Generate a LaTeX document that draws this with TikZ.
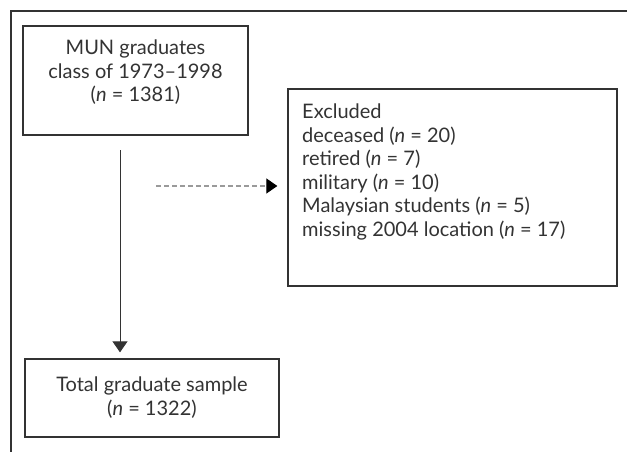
\documentclass[tikz,border=0pt]{standalone}
\usepackage{fontspec}
\setmainfont{Lato}
\usepackage{tikz}
\usetikzlibrary{arrows.meta,calc}

\definecolor{inkgray}{HTML}{333333}
\definecolor{dashgray}{HTML}{9A9A9A}

\tikzset{
  box/.style={draw=inkgray, line width=1.3pt, inner sep=0pt},
  boxtext/.style={inner sep=0pt, text=inkgray, font=\fontsize{20}{23.5}\selectfont},
  flow/.style={draw=inkgray, line width=0.9pt, -{Triangle[width=15pt,length=11pt]}},
  excl/.style={draw=dashgray, line width=1.2pt, dash pattern=on 5pt off 3pt,
    -{Triangle[width=15pt,length=11pt,fill=black,color=black]}}
}

\begin{document}
\begin{tikzpicture}[x=1pt,y=-1pt]
  \useasboundingbox (0,0) rectangle (627,452);
  % outer frame
  \draw[inkgray, line width=1.1pt] (11,452) -- (11,11) -- (627,11);

  \node[box, minimum width=225pt, minimum height=109pt] (mun) at (135.5,80.5) {};
  \node[boxtext, align=center] (muntxt) at (135.5,72.5) {MUN graduates\\class of 1973--1998\\(\textit{n} = 1381)};

  \node[box, minimum width=329pt, minimum height=197pt] (excluded) at (452.5,187.5) {};
  \node[boxtext, align=left, anchor=north west] (exctxt) at (302,104) {Excluded\\deceased (\textit{n} = 20)\\retired (\textit{n} = 7)\\military (\textit{n} = 10)\\Malaysian students (\textit{n} = 5)\\missing 2004 location (\textit{n} = 17)};

  \node[box, minimum width=254pt, minimum height=78pt] (total) at (152,398) {};
  \node[boxtext, align=center] (totaltxt) at (152,397.5) {Total graduate sample\\(\textit{n} = 1322)};

  \coordinate (down) at (120,150);
  \coordinate (side) at (156,186);
  \draw[flow, shorten >=6pt] (down) -- (down |- total.north);
  \draw[excl, shorten >=10pt] (side) -- (side -| excluded.west);
\end{tikzpicture}
\end{document}
